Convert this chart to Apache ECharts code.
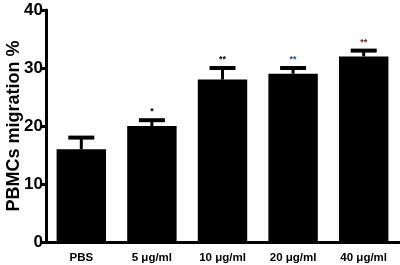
<!DOCTYPE html>
<html>
<head>
<meta charset="utf-8">
<script src="https://cdn.jsdelivr.net/npm/echarts@6/dist/echarts.min.js"></script>
<style>
    html, body { margin: 0; padding: 0; background: #fff; }
    #chart { width: 400px; height: 265px; }
</style>
</head>
<body>
<div id="chart"></div>
<script>
const categories = ['PBS', '5 μg/ml', '10 μg/ml', '20 μg/ml', '40 μg/ml']
const means = [16, 20, 28, 29, 32]
const errors = [2, 1, 2, 1, 1]
const marks = ['', '*', '**', '**', '**']
const markColors = ['#000', '#000', '#000', '#2a4f8f', '#6b2a1a']
const yTicks = [0, 10, 20, 30, 40]

const chart = echarts.init(document.getElementById('chart'), null, { renderer: 'canvas' })

const font = 'Arial, "Liberation Sans", sans-serif'

chart.setOption({
    backgroundColor: '#fff',
    animation: false,
    grid: { left: 46, right: 1, top: 10, bottom: 23, outerBoundsMode: 'none', containLabel: false },
    xAxis: {
        type: 'category',
        data: categories,
        axisLine: { lineStyle: { color: '#000', width: 3 } },
        axisTick: { show: false },
        axisLabel: { color: '#000', fontFamily: font, fontWeight: 'bold', fontSize: 11.5, margin: 10 },
    },
    yAxis: {
        type: 'value',
        min: yTicks[0],
        max: yTicks[yTicks.length - 1],
        interval: 10,
        name: 'PBMCs migration %',
        nameLocation: 'middle',
        nameGap: 23,
        nameMoveOverlap: false,
        nameTextStyle: { color: '#000', fontFamily: font, fontWeight: 'bold', fontSize: 18 },
        axisLine: { show: true, lineStyle: { color: '#000', width: 3 } },
        axisTick: { show: true, length: 4, lineStyle: { color: '#000', width: 3 } },
        axisLabel: { color: '#000', fontFamily: font, fontWeight: 'bold', fontSize: 17, margin: 3 },
        splitLine: { show: false },
    },
    series: [
        {
            type: 'bar',
            data: means,
            barWidth: '70%',
            itemStyle: { color: '#000' },
            z: 2,
        },
        {
            type: 'custom',
            z: 3,
            data: means.map((m, i) => [i, m, m + errors[i]]),
            renderItem: (params, api) => {
                const i = api.value(0)
                const base = api.coord([i, api.value(1)])
                const top = api.coord([i, api.value(2)])
                const cx = base[0]
                const half = 13
                const children = [
                    { type: 'line', shape: { x1: cx, y1: base[1], x2: cx, y2: top[1] }, style: { stroke: '#000', lineWidth: 3 } },
                    { type: 'line', shape: { x1: cx - half, y1: top[1], x2: cx + half, y2: top[1] }, style: { stroke: '#000', lineWidth: 4 } },
                ]
                if (marks[i]) {
                    children.push({
                        type: 'text',
                        style: {
                            text: marks[i], x: cx, y: top[1] - 4,
                            align: 'center', verticalAlign: 'bottom',
                            fill: markColors[i], font: 'bold 9px ' + font,
                        },
                    })
                }
                return { type: 'group', children }
            },
        },
    ],
})
</script>
</body>
</html>
